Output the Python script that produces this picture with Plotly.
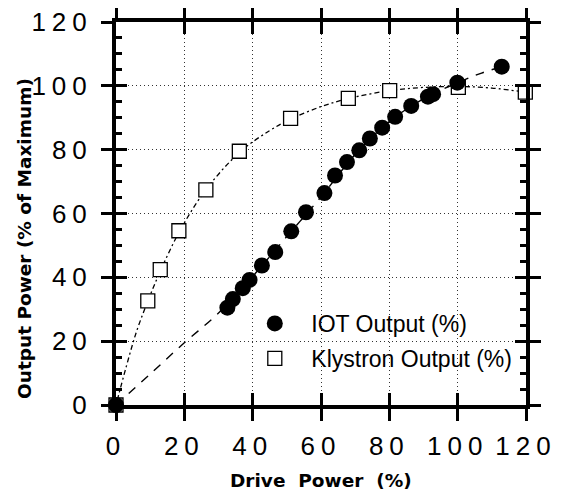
import plotly.graph_objects as go

# ---- data ----
iot_x = [0, 32.6, 34.2, 37.1, 39.1, 42.7, 46.6, 51.3, 55.6, 61.0, 64.1, 67.6,
         71.2, 74.3, 77.9, 81.7, 86.4, 91.3, 92.8, 99.9, 112.9]
iot_y = [0, 30.5, 33.2, 36.6, 39.2, 43.7, 47.9, 54.4, 60.4, 66.4, 71.9, 76.1,
         79.8, 83.5, 86.9, 90.3, 93.7, 96.6, 97.4, 101.0, 106.0]
kly_x = [0, 9.3, 12.95, 18.4, 26.3, 36.1, 51.1, 68.0, 80.1, 100.2, 119.8]
kly_y = [0, 32.6, 42.4, 54.6, 67.4, 79.5, 89.8, 96.1, 98.5, 99.5, 98.0]

# fit curves
iot_fit_x = [0, 10, 20, 30, 40, 50, 60, 70, 80, 90, 100, 107, 113]
iot_fit_y = [0, 9.7, 19.5, 28.8, 40.3, 52.8, 65.2, 78.5, 88.8, 95.9, 101.0, 104.0, 106.0]
kly_fit_x = [0, 3, 6, 9.3, 13, 18.4, 26, 36, 45, 51, 60, 68, 80, 90, 100, 110, 120]
kly_fit_y = [0, 12, 23, 32.5, 42, 54, 67, 79, 86, 89.5, 93.5, 96, 98.5, 99.5, 99.8, 99.3, 98]

tick_vals = [0, 20, 40, 60, 80, 100, 120]
tick_text = ["0", "20", "40", "60", "80", "100", "120"]

x_title = "Drive\u00a0 Power\u00a0 (%)"
y_title = "Output Power (% of Maximum)"
names = ["IOT Output (%)", "Klystron Output (%)"]

# page body has an 8px margin, so the figure is 8px smaller than the window
W, H = 553, 486
L, R, T, B = 108, 35, 14, 89
PW, PH = W - L - R, H - T - B
PB = H - B  # plot bottom in figure pixels

tick_font = dict(family="Liberation Sans, Arial", size=26, color="black")
title_font = dict(family="DejaVu Sans", size=18.5, color="black", weight="bold")

fig = go.Figure()

fig.add_trace(go.Scatter(x=kly_fit_x, y=kly_fit_y, mode="lines", line_shape="spline",
                         line=dict(color="black", width=1.3, dash="2px,3px,5px,3px"),
                         showlegend=False, hoverinfo="skip"))
fig.add_trace(go.Scatter(x=iot_fit_x, y=iot_fit_y, mode="lines", line_shape="spline",
                         line=dict(color="black", width=1.4, dash="9px,8px"),
                         showlegend=False, hoverinfo="skip"))
fig.add_trace(go.Scatter(x=kly_x, y=kly_y, mode="markers", name=names[1],
                         marker=dict(symbol="square", size=14, color="white",
                                     line=dict(color="black", width=1.3)),
                         cliponaxis=False, legendrank=2, legendgroup="k"))
fig.add_trace(go.Scatter(x=iot_x, y=iot_y, mode="markers", name=names[0],
                         marker=dict(symbol="circle", size=16, color="black",
                                     line=dict(width=0)),
                         cliponaxis=False, legendrank=1, legendgroup="i"))
# dummy trace for the overlay axes
fig.add_trace(go.Scatter(x=[None], y=[None], xaxis="x2", yaxis="y2",
                         showlegend=False, hoverinfo="skip"))

common = dict(range=[0, 120], tickvals=tick_vals, ticktext=tick_text,
              showline=True, linecolor="black", linewidth=4, mirror="ticks",
              tickcolor="black", tickwidth=3, zeroline=False, automargin=False)

fig.update_layout(
    width=W, height=H,
    margin=dict(l=L, r=R, t=T, b=B, pad=0, autoexpand=False),
    paper_bgcolor="white", plot_bgcolor="white",
    xaxis=dict(**common, ticks="outside", ticklen=12, tickfont=tick_font,
               ticklabelstandoff=3, ticklabeloverflow="allow",
               showgrid=True, gridcolor="#333", gridwidth=1, griddash="1px,3px"),
    yaxis=dict(**common, ticks="outside", ticklen=11, tickfont=tick_font,
               ticklabelstandoff=3, ticklabeloverflow="allow",
               showgrid=True, gridcolor="#333", gridwidth=1, griddash="1px,3px"),
    xaxis2=dict(**common, overlaying="x", matches="x", side="bottom", anchor="y2",
                ticks="inside", ticklen=12, showticklabels=False, showgrid=False),
    yaxis2=dict(**common, overlaying="y", matches="y", side="left", anchor="x2",
                ticks="inside", ticklen=11, showticklabels=False, showgrid=False,
                minor=dict(ticks="inside", ticklen=6, tickwidth=3, dtick=5,
                           tickcolor="black", showgrid=False)),
    legend=dict(x=(230.3 - L) / PW, y=(PB - 294) / PH,
                xanchor="left", yanchor="top", bgcolor="rgba(0,0,0,0)",
                font=dict(family="Liberation Sans, Arial", size=23, color="black"),
                itemwidth=63, tracegroupgap=2, traceorder="grouped"),
    annotations=[
        dict(text=x_title, xref="paper", yref="paper",
             x=0.5, y=(PB - 472) / PH, xanchor="center", yanchor="middle",
             showarrow=False, font=title_font),
        dict(text=y_title, xref="paper", yref="paper", textangle=-90,
             x=(16 - L) / PW, y=(PB - 231) / PH,
             xanchor="center", yanchor="middle", showarrow=False, font=title_font),
    ],
)

# the reference uses widely tracked digits on the axes
css = ".xtick text, .ytick text { letter-spacing: 6px; }"
post = ("var s = document.createElement('style'); s.textContent = '" + css +
        "'; document.head.appendChild(s);")

fig.write_html("out.html", post_script=post)
